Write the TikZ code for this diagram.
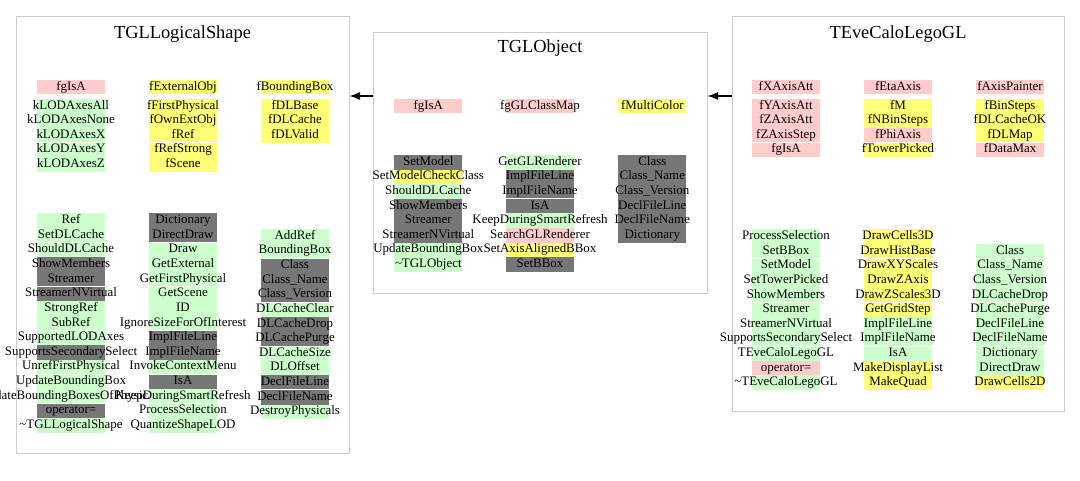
\documentclass[tikz,border=0pt]{standalone}
\usepackage{fontspec}
\setmainfont{Liberation Serif}
\usetikzlibrary{arrows.meta,fit}
\definecolor{memP}{HTML}{FFCCCC}
\definecolor{memY}{HTML}{FFFF77}
\definecolor{memG}{HTML}{CCFFCC}
\definecolor{memD}{HTML}{777777}
\definecolor{boxgray}{HTML}{CCCCCC}
\newcommand\memberrows[6]{%
  \foreach \mtext/\mcol [count=\i from 0] in {#6}
    \fill[mem\mcol] ({#2-34},{#3+\i*#4}) rectangle +(68,#4);
  \foreach \k in {#5} {\ifx\k\empty\else\draw[gapline] ({#2-34},{#3+\k*#4}) -- +(68,0);\fi}
  \foreach \mtext/\mcol [count=\i from 0] in {#6}
    \node[member] (#1-\i) at ({#2},{#3+\i*#4+10.3}) {\mtext};
}

\begin{document}
\begin{tikzpicture}[x=0.75pt,y=-0.75pt,
    classbox/.style={draw=boxgray,line width=0.75pt,inner sep=0pt},
    classname/.style={anchor=base,inner sep=0pt,font=\fontsize{13.8}{16}\selectfont},
    member/.style={anchor=base,inner sep=0pt,font=\fontsize{9.7}{11}\selectfont},
    gapline/.style={white,line width=0.75pt},
    inherits/.style={line width=0.9pt,-{Latex[length=8pt,width=6pt]}}]
\useasboundingbox (0,0) rectangle (1080,480);
\node[classbox,fit={(16,16) (349,453)}] (LS) {};
\node[classbox,fit={(373,32) (707,293)}] (OBJ) {};
\node[classbox,fit={(732,16) (1064,411)}] (EVE) {};
\node[classname] (LS-name) at (182.5,38) {TGLLogicalShape};
\node[classname] (OBJ-name) at (540,52.5) {TGLObject};
\node[classname] (EVE-name) at (898,38) {TEveCaloLegoGL};

\memberrows{LSd0a}{71}{80}{14}{}{fgIsA/P}
\memberrows{LSd0b}{183}{80}{14}{}{fExternalObj/Y}
\memberrows{LSd0c}{295}{80}{14}{}{fBoundingBox/Y}
\memberrows{LSda}{71}{99}{14.5}{3}{kLODAxesAll/G,kLODAxesNone/G,kLODAxesX/G,kLODAxesY/G,kLODAxesZ/G}
\memberrows{LSdb}{183}{99}{14.5}{3}{fFirstPhysical/Y,fOwnExtObj/Y,fRef/Y,fRefStrong/Y,fScene/Y}
\memberrows{LSdc}{295}{99}{14.5}{}{fDLBase/Y,fDLCache/Y,fDLValid/Y}
\memberrows{LSma}{71}{213.3}{14.63}{2,5,8,11,13}{Ref/G,SetDLCache/G,ShouldDLCache/G,ShowMembers/D,Streamer/D,StreamerNVirtual/D,StrongRef/G,SubRef/G,SupportedLODAxes/G,SupportsSecondarySelect/D,UnrefFirstPhysical/G,UpdateBoundingBox/G,UpdateBoundingBoxesOfPhysicals/G,operator=/D,\textasciitilde TGLLogicalShape/G}
\memberrows{LSmb}{183}{213.3}{14.63}{2,5,8,11,13}{Dictionary/D,DirectDraw/D,Draw/G,GetExternal/G,GetFirstPhysical/G,GetScene/G,ID/G,IgnoreSizeForOfInterest/G,ImplFileLine/D,ImplFileName/D,InvokeContextMenu/G,IsA/D,KeepDuringSmartRefresh/G,ProcessSelection/G,QuantizeShapeLOD/G}
\memberrows{LSmc}{295}{229}{14.63}{2,5,8,11}{AddRef/G,BoundingBox/G,Class/D,Class\_Name/D,Class\_Version/D,DLCacheClear/G,DLCacheDrop/D,DLCachePurge/D,DLCacheSize/G,DLOffset/G,DeclFileLine/D,DeclFileName/D,DestroyPhysicals/G}

\memberrows{OBJda}{428.3}{99}{14}{}{fgIsA/P}
\memberrows{OBJdb}{540}{99}{14}{}{fgGLClassMap/P}
\memberrows{OBJdc}{652.3}{99}{14}{}{fMultiColor/Y}
\memberrows{OBJma}{428.3}{155}{14.6}{}{SetModel/D,SetModelCheckClass/Y,ShouldDLCache/G,ShowMembers/D,Streamer/D,StreamerNVirtual/D,UpdateBoundingBox/G,\textasciitilde TGLObject/G}
\memberrows{OBJmb}{540}{155}{14.6}{3}{GetGLRenderer/G,ImplFileLine/D,ImplFileName/D,IsA/D,KeepDuringSmartRefresh/G,SearchGLRenderer/P,SetAxisAlignedBBox/Y,SetBBox/D}
\memberrows{OBJmc}{652.3}{155}{14.6}{}{Class/D,Class\_Name/D,Class\_Version/D,DeclFileLine/D,DeclFileName/D,Dictionary/D}

\memberrows{EVEd0a}{786}{80}{14}{}{fXAxisAtt/P}
\memberrows{EVEd0b}{898}{80}{14}{}{fEtaAxis/P}
\memberrows{EVEd0c}{1010}{80}{14}{}{fAxisPainter/P}
\memberrows{EVEda}{786}{99}{14.5}{3}{fYAxisAtt/P,fZAxisAtt/P,fZAxisStep/P,fgIsA/P}
\memberrows{EVEdb}{898}{99}{14.5}{3}{fM/Y,fNBinSteps/Y,fPhiAxis/P,fTowerPicked/Y}
\memberrows{EVEdc}{1010}{99}{14.5}{3}{fBinSteps/Y,fDLCacheOK/Y,fDLMap/Y,fDataMax/P}
\memberrows{EVEma}{786}{229.3}{14.6}{2,5,8}{ProcessSelection/G,SetBBox/G,SetModel/G,SetTowerPicked/G,ShowMembers/G,Streamer/G,StreamerNVirtual/G,SupportsSecondarySelect/G,TEveCaloLegoGL/G,operator=/P,\textasciitilde TEveCaloLegoGL/G}
\memberrows{EVEmb}{898}{229.3}{14.6}{2,5,8}{DrawCells3D/Y,DrawHistBase/Y,DrawXYScales/Y,DrawZAxis/Y,DrawZScales3D/Y,GetGridStep/Y,ImplFileLine/G,ImplFileName/G,IsA/G,MakeDisplayList/Y,MakeQuad/Y}
\memberrows{EVEmc}{1010}{244}{14.6}{1,4,7}{Class/G,Class\_Name/G,Class\_Version/G,DLCacheDrop/G,DLCachePurge/G,DeclFileLine/G,DeclFileName/G,Dictionary/G,DirectDraw/G,DrawCells2D/Y}

\coordinate (lvl) at (0,96);
\draw[inherits] (EVE.west |- lvl) -- (OBJ.east |- lvl);
\draw[inherits] (OBJ.west |- lvl) -- (LS.east |- lvl);
\end{tikzpicture}
\end{document}
